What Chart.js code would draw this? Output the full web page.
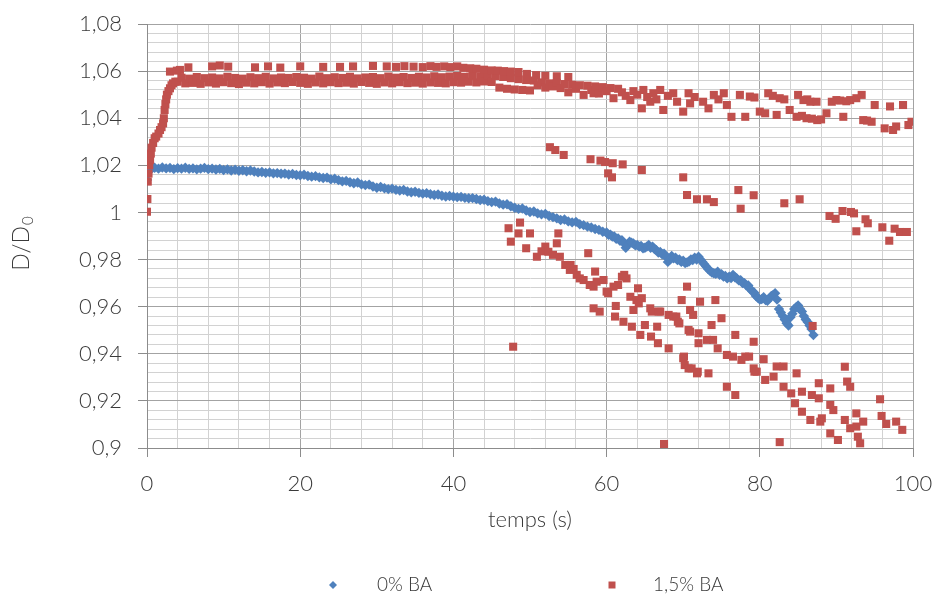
<!DOCTYPE html>
<html><head><meta charset="utf-8">
<script src="https://cdn.jsdelivr.net/npm/chart.js@4.4.1/dist/chart.umd.min.js"></script>
<style>html,body{margin:0;padding:0;background:#fff;}canvas{display:block;}</style>
</head><body>
<canvas id="c" width="938" height="599"></canvas>
<script>
// ---------- DATA ----------
const seriesLabels = ['0% BA', '1,5% BA'];
const xTitle = 'temps (s)';
const yTitleMain = 'D/D';
const yTitleSub = '0';
const xMajorTicks = [0, 20, 40, 60, 80, 100];
const yMajorTicks = [0.9, 0.92, 0.94, 0.96, 0.98, 1, 1.02, 1.04, 1.06, 1.08];

// 0% BA : time (s) and D/D0
const blueTime = [
 0,0.5,1,1.5,2,2.5,3,3.5,4,4.5,
 5,5.5,6,6.5,7,7.5,8,8.5,9,9.5,
 10,10.5,11,11.5,12,12.5,13,13.5,14,14.5,
 15,15.5,16,16.5,17,17.5,18,18.5,19,19.5,
 20,20.5,21,21.5,22,22.5,23,23.5,24,24.5,
 25,25.5,26,26.5,27,27.5,28,28.5,29,29.5,
 30,30.5,31,31.5,32,32.5,33,33.5,34,34.5,
 35,35.5,36,36.5,37,37.5,38,38.5,39,39.5,
 40,40.5,41,41.5,42,42.5,43,43.5,44,44.5,
 45,45.5,46,46.5,47,47.5,48,48.5,49,49.5,
 50,50.5,51,51.5,52,52.5,53,53.5,54,54.5,
 55,55.5,56,56.5,57,57.5,58,58.5,59,59.5,
 60,60.5,61,61.5,62,62.5,63,63.5,64,64.5,
 65,65.5,66,66.5,67,67.5,68,68.5,69,69.5,
 70,70.5,71,71.5,72,72.5,73,73.5,74,74.5,
 75,75.5,76,76.5,77,77.5,78,78.5,79,79.5,
 80,80.5,81,81.5,82,82.5,83,83.5,84,84.5,
 85,85.5,86,86.5,87
];
const blueRatio = [
 1.0138,1.0182,1.0190,1.0186,1.0191,1.0187,1.0189,1.0184,1.0188,1.0186,
 1.0190,1.0185,1.0187,1.0183,1.0186,1.0189,1.0184,1.0186,1.0182,1.0185,
 1.0180,1.0183,1.0178,1.0181,1.0177,1.0179,1.0175,1.0178,1.0174,1.0170,
 1.0172,1.0168,1.0170,1.0166,1.0167,1.0164,1.0165,1.0161,1.0163,1.0159,
 1.0158,1.0160,1.0155,1.0152,1.0154,1.0149,1.0146,1.0148,1.0141,1.0143,
 1.0137,1.0132,1.0134,1.0128,1.0124,1.0127,1.0119,1.0116,1.0118,1.0110,
 1.0105,1.0108,1.0103,1.0099,1.0101,1.0096,1.0093,1.0095,1.0089,1.0086,
 1.0088,1.0083,1.0080,1.0082,1.0077,1.0074,1.0076,1.0071,1.0068,1.0070,
 1.0067,1.0065,1.0066,1.0062,1.0060,1.0061,1.0057,1.0053,1.0054,1.0048,
 1.0044,1.0046,1.0038,1.0033,1.0035,1.0026,1.0020,1.0015,1.0017,1.0008,
 1.0002,1.0004,0.9996,0.9992,0.9994,0.9985,0.9980,0.9975,0.9968,0.9970,
 0.9962,0.9958,0.9960,0.9950,0.9946,0.9940,0.9936,0.9930,0.9926,0.9918,
 0.9915,0.9905,0.9898,0.9890,0.9882,0.9850,0.9876,0.9868,0.9862,0.9858,
 0.9850,0.9862,0.9855,0.9840,0.9832,0.9825,0.9790,0.9815,0.9808,0.9800,
 0.9795,0.9788,0.9800,0.9808,0.9812,0.9790,0.9770,0.9752,0.9742,0.9748,
 0.9738,0.9730,0.9727,0.9735,0.9720,0.9712,0.9700,0.9690,0.9665,0.9645,
 0.9630,0.9640,0.9625,0.9645,0.9657,0.9590,0.9560,0.9530,0.9555,0.9590,
 0.9605,0.9580,0.9545,0.9520,0.9480
];
// extra 0% BA readings in the wider, noisier end of the curve
const blueTailTime = [
 60.25,60.75,61.25,61.75,62.25,62.75,63.25,63.75,64.25,64.75,
 65.25,65.75,66.25,66.75,67.25,67.75,68.25,68.75,69.25,69.75,
 70.25,70.75,71.25,71.75,72.25,72.75,73.25,73.75,74.25,74.75,
 75.25,75.75,76.25,76.75,77.25,77.75,78.25,78.75,79.25,79.75,
 80.25,80.75,81.25,81.75,82.25,82.75,83.25,83.75,84.25,84.75,
 85.25,85.75,86.25,86.75
];
const blueTailRatio = [
 0.9905,0.9898,0.9888,0.9880,0.9870,0.9862,0.9872,0.9860,0.9855,0.9848,
 0.9855,0.9850,0.9845,0.9830,0.9822,0.9812,0.9800,0.9805,0.9798,0.9790,
 0.9785,0.9792,0.9798,0.9800,0.9800,0.9780,0.9760,0.9745,0.9740,0.9735,
 0.9728,0.9720,0.9722,0.9725,0.9712,0.9700,0.9690,0.9675,0.9660,0.9638,
 0.9632,0.9628,0.9635,0.9650,0.9630,0.9575,0.9545,0.9520,0.9570,0.9598,
 0.9590,0.9560,0.9535,0.9505
];

// 1,5% BA : [time (s), D/D0] readings, grouped by region of the cloud
const redRise = [
 [0,1.0003],[0.05,1.0057],[0.1,1.0131],[0.2,1.0165],[0.3,1.0200],[0.4,1.0223],[0.5,1.0250],[0.6,1.0275],
 [0.8,1.0295],[1.0,1.0315],[1.2,1.0322],[1.5,1.0335],[1.7,1.0350],[1.9,1.0362],[2.1,1.0378],[2.2,1.0400],
 [2.3,1.0435],[2.4,1.0460],[2.5,1.0480],[2.6,1.0500],[2.8,1.0515],[3.0,1.0527],[3.2,1.0540],[3.4,1.0548],[3.7,1.0555]
];
const redPlateau = [
 [4,1.0555],[4.5,1.0572],[5,1.0548],[5.5,1.0568],[6,1.0550],[6.5,1.0575],[7,1.0546],[7.5,1.0570],[8,1.0552],[8.5,1.0573],
 [9,1.0547],[9.5,1.0569],[10,1.0553],[10.5,1.0576],[11,1.0549],[11.5,1.0571],[12,1.0545],[12.5,1.0568],[13,1.0551],[13.5,1.0574],
 [14,1.0548],[14.5,1.0570],[15,1.0553],[15.5,1.0576],[16,1.0547],[16.5,1.0569],[17,1.0552],[17.5,1.0573],[18,1.0549],[18.5,1.0571],
 [19,1.0554],[19.5,1.0575],[20,1.0550],[20.5,1.0572],[21,1.0546],[21.5,1.0568],[22,1.0552],[22.5,1.0577],[23,1.0548],[23.5,1.0570],
 [24,1.0553],[24.5,1.0574],[25,1.0549],[25.5,1.0571],[26,1.0551],[26.5,1.0576],[27,1.0547],[27.5,1.0569],[28,1.0554],[28.5,1.0573],
 [29,1.0550],[29.5,1.0575],[30,1.0546],[30.5,1.0570],[31,1.0552],[31.5,1.0577],[32,1.0548],[32.5,1.0572],[33,1.0553],[33.5,1.0575],
 [34,1.0549],[34.5,1.0571],[35,1.0551],[35.5,1.0576],[36,1.0547],[36.5,1.0573],[37,1.0552],[37.5,1.0578],[38,1.0550],[38.5,1.0574],
 [39,1.0548],[39.5,1.0577],[40,1.0553],[40.5,1.0579],[41,1.0551],[41.5,1.0576],[42,1.0555],[42.5,1.0580],[43,1.0552],[43.5,1.0578],
 [44,1.0556],[44.5,1.0581],[45,1.0554],[45.5,1.0579],[46,1.0530],[46.5,1.0575],[47,1.0525],[47.5,1.0570],[48,1.0522],[48.5,1.0566],
 [49,1.0520],[49.5,1.0562],[50,1.0518]
];
const redTopRow = [
 [3.0,1.0598],[3.9,1.0602],[4.3,1.0605],[5.4,1.0616],[8.5,1.0620],[9.5,1.0624],[10.6,1.0619],[14.1,1.0616],[15.8,1.0620],
 [17.4,1.0615],[20.0,1.0620],[23.0,1.0618],[25.2,1.0618],[26.9,1.0620],[29.5,1.0622],[31.3,1.0620],[32.5,1.0618],[33.6,1.0621],
 [34.8,1.0619],[36.0,1.0617],[37.0,1.0621],[37.8,1.0618],[38.8,1.0620],[39.6,1.0617],[40.5,1.0620],[41.3,1.0614],[42.2,1.0612],
 [43.0,1.0610],[44.0,1.0606],[45.0,1.0603],[45.8,1.0602],[46.6,1.0600],[47.5,1.0598],[48.5,1.0596],[49.6,1.0588],[50.8,1.0583],
 [52.0,1.0580],[53.5,1.0578],[55.0,1.0575]
];
const redLateBand = [
 [50.5,1.0560],[51,1.0540],[51.5,1.0552],[52,1.0530],[52.5,1.0548],[53,1.0535],[53.5,1.0550],[54,1.0528],[54.5,1.0545],[55,1.0510],
 [55.5,1.0542],[56,1.0525],[56.5,1.0540],[57,1.0499],[57.5,1.0538],[58,1.0520],[58.3,1.0506],[58.5,1.0535],[59,1.0505],[59.5,1.0532],
 [60,1.0515],[60.5,1.0528],[60.9,1.0485],[61.5,1.0525],[62,1.0510],[62.5,1.0495],[63.1,1.0477],[63.5,1.0515],[64,1.0500],[64.6,1.0442],
 [64.8,1.0520],[65.3,1.0490],[65.7,1.0470],[66.1,1.0506],[66.5,1.0480],[67,1.0520],[67.4,1.0435],[68,1.0495],[68.7,1.0506],[69.2,1.0470],
 [70,1.0428],[70.7,1.0506],[70.9,1.0463],[71.5,1.0490],[72.6,1.0470],[73.3,1.0442],[74,1.0499],[74.6,1.0480],[75.3,1.0506],[75.7,1.0456],
 [76.3,1.0406],[77.4,1.0499],[78.1,1.0406],[78.7,1.0492],[79.3,1.0488],[80,1.0428],[80.7,1.0421],[81.1,1.0506],[81.7,1.0495],[82.2,1.0414],
 [82.6,1.0485],[83.2,1.0480],[83.9,1.0435],[84.8,1.0406],[85,1.0499],[85.5,1.0410],[85.7,1.0477],[86.1,1.0400],[86.2,1.0480],[86.6,1.0470],
 [86.8,1.0398],[87.4,1.0470],[87.5,1.0392],[88.0,1.0395],[88.7,1.0421],[89.4,1.0470],[90,1.0477],[90.5,1.0475],[90.9,1.0406],[91.3,1.0472],
 [91.8,1.0477],[92.6,1.0485],[93.3,1.0499],[93.5,1.0392],[94.0,1.0390],[94.6,1.0385],[95,1.0456],[96.3,1.0357],[97,1.0450],[97.4,1.0350],
 [97.8,1.0365],[98.7,1.0456],[99.4,1.0371],[99.8,1.0385]
];
const redMiddle = [
 [52.6,1.0277],[53.3,1.0265],[54.4,1.0244],[57.9,1.0226],[59.2,1.0220],[59.8,1.0214],[60.2,1.0166],[60.7,1.0149],[60.8,1.0209],
 [62.1,1.0204],[64.6,1.0180],[70.0,1.0149],[70.5,1.0074],[71.8,1.0056],[73.1,1.0056],[74.0,1.0044],[77.2,1.0095],[77.5,1.0016],
 [79.2,1.0073],[83.2,1.0039],[85.2,1.0056],[89.1,0.9985],[89.9,0.9973],[90.8,1.0006],[91.9,1.0002],[92.3,0.9996],[92.6,0.9920],
 [93.8,0.9971],[94.1,0.9954],[96.0,0.9937],[96.9,0.9880],[97.6,0.9931],[98.3,0.9917],[99.2,0.9917]
];
const redLower = [
 [47.2,0.9933],[47.5,0.9876],[47.8,0.9430],[48.5,0.9911],[48.7,0.9957],[49.5,0.9848],[50.0,0.9911],[50.9,0.9812],[51.5,0.9835],
 [52.0,0.9855],[52.4,0.9833],[53.0,0.9820],[53.5,0.9869],[53.7,0.9911],[53.9,0.9812],[54.6,0.9777],[55.2,0.9756],[55.3,0.9777],
 [55.7,0.9760],[56.1,0.9735],[56.5,0.9720],[57.0,0.9713],[57.6,0.9827],[57.8,0.9692],[58.3,0.9685],[58.3,0.9593],[58.5,0.9749],
 [58.7,0.9706],[59.1,0.9579],[59.6,0.9713],[60.0,0.9664],[60.2,0.9657],[60.9,0.9685],[61.1,0.9558],[61.2,0.9603],[61.5,0.9692],
 [62.0,0.9727],[62.2,0.9536],[62.3,0.9735],[62.6,0.9720],[63.1,0.9642],[63.3,0.9515],[63.5,0.9586],[63.9,0.9628],[64.1,0.9678],
 [64.2,0.9614],[64.4,0.9480],[64.6,0.9636],[65.0,0.9522],[65.7,0.9593],[65.8,0.9473],[65.9,0.9579],[66.6,0.9515],[66.7,0.9445],
 [66.8,0.9579],[67.0,0.9579],[67.5,0.9017],[68.1,0.9565],[68.1,0.9423],[68.7,0.9558],[69.1,0.9558],[69.3,0.9536],[69.5,0.9529],
 [69.8,0.9628],[70.0,0.9381],[70.1,0.9388],[70.2,0.9352],[70.5,0.9685],[70.7,0.9501],[70.7,0.9338],[70.9,0.9586],[70.9,0.9494],
 [71.1,0.9338],[71.3,0.9565],[71.8,0.9317],[71.9,0.9324],[72.0,0.9487],[72.0,0.9445],[72.2,0.9621],[73.1,0.9459],[73.3,0.9317],
 [73.7,0.9522],[73.9,0.9459],[74.2,0.9628],[74.5,0.9423],[75.0,0.9551],[75.7,0.9395],[75.7,0.9260],[76.5,0.9388],[76.8,0.9480],
 [76.8,0.9225],[77.6,0.9374],[78.1,0.9388],[78.6,0.9388],[79.2,0.9451],[79.2,0.9338],[79.3,0.9324],[79.6,0.9324],[80.5,0.9377],
 [80.7,0.9289],[81.8,0.9303],[82.2,0.9346],[82.6,0.9025],[83.1,0.9346],[83.1,0.9260],[84.1,0.9232],[84.6,0.9190],[84.8,0.9317],
 [85.5,0.9239],[85.5,0.9154],[86.6,0.9119],[86.8,0.9225],[86.9,0.9518],[87.7,0.9211],[87.7,0.9275],[87.9,0.9112],[88.1,0.9126],
 [89.2,0.9253],[89.2,0.9183],[89.2,0.9062],[89.6,0.9161],[90.2,0.9034],[91.1,0.9345],[91.1,0.9119],[91.4,0.9282],[91.8,0.9260],
 [91.8,0.9084],[92.6,0.9091],[92.6,0.9147],[92.8,0.9048],[93.1,0.9020],[93.5,0.9112],[95.7,0.9207],[95.9,0.9136],[96.5,0.9102],
 [97.8,0.9112],[98.6,0.9077]
];

// ---------- STYLE ----------
const BLUE = '#4F81BD', RED = '#C0504D';
const TEXT = '#3a3a3a';
const MAJOR = '#a3a3a3', MINOR = '#d2d2d2', AXIS = '#8c8c8c';
const FAM = 'Lato, "Open Sans", sans-serif';
const TICK_FONT = {family: FAM, size: 22, weight: '300'};

const near = (a, b) => Math.abs(a - b) < 1e-6;
const isMajorX = v => xMajorTicks.some(m => near(m, v));
const isMajorY = v => yMajorTicks.some(m => near(m, v));
const fmtY = v => { const m = yMajorTicks.find(t => near(t, v)); return String(m).replace('.', ','); };

const blueData = blueTime.map((t, i) => ({x: t, y: blueRatio[i]}))
  .concat(blueTailTime.map((t, i) => ({x: t, y: blueTailRatio[i]})));
const redData = [].concat(redRise, redPlateau, redTopRow, redLateBand, redMiddle, redLower).map(p => ({x: p[0], y: p[1]}));

const extras = {
  id: 'extras',
  beforeDraw(chart) {
    const c = chart.ctx; c.save(); c.fillStyle = '#fff'; c.fillRect(0, 0, chart.width, chart.height); c.restore();
  },
  afterDraw(chart) {
    const c = chart.ctx;
    // y-axis title with subscript
    c.save();
    c.fillStyle = TEXT;
    c.translate(29, 244);
    c.rotate(-Math.PI / 2);
    c.textBaseline = 'alphabetic';
    c.textAlign = 'left';
    c.font = '300 23px ' + FAM;
    const wMain = c.measureText(yTitleMain).width;
    c.font = '300 15px ' + FAM;
    const wSub = c.measureText(yTitleSub).width;
    const start = -(wMain + wSub) / 2;
    c.font = '300 23px ' + FAM;
    c.fillText(yTitleMain, start, 0);
    c.font = '300 15px ' + FAM;
    c.fillText(yTitleSub, start + wMain + 1, 4);
    c.restore();
    // legend
    const slots = [{mx: 333, tx: 377}, {mx: 612, tx: 653}];
    const ly = 585;
    c.save();
    c.font = '300 19px ' + FAM;
    c.textBaseline = 'middle';
    c.textAlign = 'left';
    chart.data.datasets.forEach((ds, i) => {
      const s = slots[i];
      c.fillStyle = ds.pointBackgroundColor;
      c.beginPath();
      if (ds.pointStyle === 'rectRot') {
        const r = 4;
        c.moveTo(s.mx, ly - r); c.lineTo(s.mx + r, ly); c.lineTo(s.mx, ly + r); c.lineTo(s.mx - r, ly); c.closePath();
      } else {
        c.rect(s.mx - 3.5, ly - 3.5, 7, 7);
      }
      c.fill();
      c.fillStyle = TEXT;
      c.fillText(ds.label, s.tx, ly);
    });
    c.restore();
  }
};

new Chart(document.getElementById('c'), {
  type: 'scatter',
  data: {
    datasets: [
      {label: seriesLabels[0], data: blueData, showLine: false, order: 2,
       pointStyle: 'rectRot', pointRadius: 5.2, pointHoverRadius: 5.2, pointBorderWidth: 0,
       pointBackgroundColor: BLUE, pointBorderColor: BLUE, backgroundColor: BLUE, borderColor: BLUE},
      {label: seriesLabels[1], data: redData, showLine: false, order: 1,
       pointStyle: 'rect', pointRadius: 5.7, pointHoverRadius: 5.7, pointBorderWidth: 0,
       pointBackgroundColor: RED, pointBorderColor: RED, backgroundColor: RED, borderColor: RED}
    ]
  },
  options: {
    responsive: false,
    animation: false,
    devicePixelRatio: 1,
    layout: {padding: {left: 0, right: 25, top: 24, bottom: 66}},
    plugins: {legend: {display: false}, tooltip: {enabled: false}},
    scales: {
      x: {
        type: 'linear', position: 'bottom', min: 0, max: 100,
        ticks: {stepSize: 4, autoSkip: false, maxRotation: 0, minRotation: 0, padding: 14, color: TEXT,
                font: TICK_FONT,
                callback: v => isMajorX(v) ? String(v) : ''},
        grid: {color: c => (c.tick && isMajorX(c.tick.value)) ? MAJOR : MINOR,
               tickColor: c => (c.tick && isMajorX(c.tick.value)) ? AXIS : 'rgba(0,0,0,0)',
               tickLength: 9, lineWidth: 1},
        border: {color: AXIS, width: 1},
        title: {display: true, text: xTitle, color: TEXT, font: {family: FAM, size: 22, weight: '300'}, padding: {top: 0, bottom: 0}},
        afterFit: s => { s.height = 85; s.paddingLeft = 0; s.paddingRight = 0; }
      },
      y: {
        type: 'linear', position: 'left', min: 0.9, max: 1.08,
        ticks: {stepSize: 0.004, autoSkip: false, padding: 16, color: TEXT,
                font: TICK_FONT,
                callback: v => isMajorY(v) ? fmtY(v) : ''},
        grid: {color: c => (c.tick && isMajorY(c.tick.value)) ? MAJOR : MINOR,
               tickColor: c => (c.tick && isMajorY(c.tick.value)) ? AXIS : 'rgba(0,0,0,0)',
               tickLength: 9, lineWidth: 1},
        border: {color: AXIS, width: 1},
        afterFit: s => { s.width = 147; s.paddingTop = 0; s.paddingBottom = 0; }
      }
    }
  },
  plugins: [extras]
});
</script>
</body></html>
